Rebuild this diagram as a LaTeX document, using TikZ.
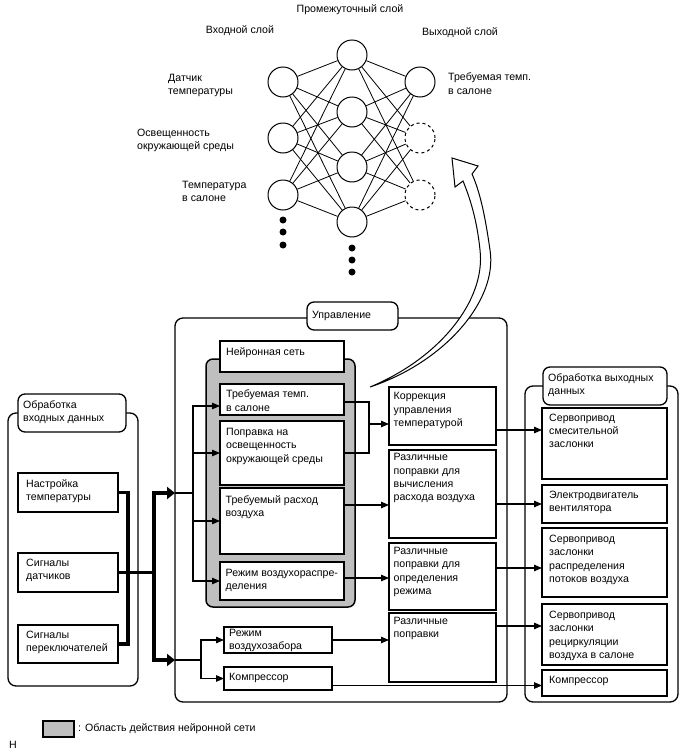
\documentclass[tikz,border=0pt]{standalone}
\usepackage{fontspec}
\setmainfont{Liberation Sans}
\usetikzlibrary{arrows.meta,calc}
\newcommand\fsz{\fontsize{10.6}{13.3}\selectfont}
\newcommand\mybox[8]{%
  \node[boxs, minimum width={(#4-#2)*1pt}, minimum height={(#5-#3)*1pt}] (#1) at (#2,#3) {};
  \node[lbl] (#1-t) at ($(#1.north west)+(#6,#7)$) {#8};}
\newcommand\mygrp[5]{%
  \node[grp, minimum width={(#4-#2)*1pt}, minimum height={(#5-#3)*1pt}] (#1) at (#2,#3) {};}
\newcommand\mytab[6]{%
  \node[tabs, minimum width={(#4-#2)*1pt}, minimum height={(#5-#3)*1pt}] (#1) at (#2,#3) {};
  \node[lbl, anchor=west] (#1-t) at ($(#1.west)+(5,0)$) {#6};}
\begin{document}
\begin{tikzpicture}[x=1pt,y=-1pt,
  font=\fsz,
  lw/.style={line width=1.1pt},
  boxs/.style={draw, line width=1.3pt, fill=white, rectangle, inner sep=0pt, outer sep=0pt, anchor=north west},
  grp/.style={draw, line width=1.3pt, rounded corners=8pt, rectangle, inner sep=0pt, outer sep=0pt, anchor=north west},
  tabs/.style={grp, fill=white, rounded corners=7pt},
  lbl/.style={inner sep=0pt, anchor=north west, align=left, font=\fsz, execute at begin node=\strut},
  arr/.style={line width=1.1pt, -{Triangle[length=8pt,width=6.5pt]}},
  bus/.style={line width=3.5pt},
  bigarr/.style={line width=3.5pt, -{Triangle[length=8pt,width=12pt]}},
  neuron/.style={circle, draw, line width=1pt, minimum size=30pt, inner sep=0pt, fill=white},
  conn/.style={line width=0.8pt},
  dotn/.style={circle, fill=black, inner sep=0pt, minimum size=7pt},
]
\useasboundingbox (0,0) rectangle (688,755);

% ---------------- neural network ----------------
\node[inner sep=0pt] (tmid) at (350,10) {Промежуточный слой};
\node[inner sep=0pt] (tin) at (240,31) {Входной слой};
\node[inner sep=0pt] (tout) at (460,33) {Выходной слой};
\node[lbl] (li1) at (168,74) {Датчик\\температуры};
\node[lbl] (li2) at (137,129) {Освещенность\\окружающей среды};
\node[lbl] (li3) at (182,181) {Температура\\в салоне};
\node[lbl] (lo1) at (448,73) {Требуемая темп.\\в салоне};

\coordinate (pi1) at (283,82);
\coordinate (pi2) at (283,138);
\coordinate (pi3) at (283,195);
\coordinate (ph1) at (352,55);
\coordinate (ph2) at (352,112);
\coordinate (ph3) at (352,167);
\coordinate (ph4) at (352,222);
\coordinate (po1) at (420,82);
\coordinate (po2) at (420,138);
\coordinate (po3) at (420,195);
\foreach \n in {i1,i2,i3,h1,h2,h3,h4,o1}{\node[neuron] (\n) at (p\n) {};}
\foreach \n in {o2,o3}{\node[neuron, dashed] (\n) at (p\n) {};}
\foreach \a in {i1,i2,i3}{\foreach \b in {h1,h2,h3,h4}{\draw[conn] (\a) -- (\b);}}
\foreach \a in {h1,h2,h3,h4}{\foreach \b in {o1,o2,o3}{\draw[conn] (\a) -- (\b);}}
\node[dotn] (di1) at (283,220) {};
\node[dotn] (di2) at (283,232) {};
\node[dotn] (di3) at (283,245) {};
\node[dotn] (dh1) at (352,248) {};
\node[dotn] (dh2) at (352,260) {};
\node[dotn] (dh3) at (352,272) {};

% ---------------- groups ----------------
\mygrp{ing}{8}{413}{138}{686}
\mygrp{ctrl}{175}{318}{507}{702}
\mygrp{outg}{525}{386}{678}{702}
\node[grp, fill=gray!50, line width=1.5pt, rounded corners=7pt, minimum width=149pt, minimum height=248pt] (gray) at (206,359) {};
\mytab{intab}{18}{394}{126}{432}{Обработка\\входных данных}
\mytab{ctab}{307}{302}{398}{330}{Управление}
\mytab{otab}{543}{367}{667}{405}{Обработка выходных\\данных}

% ---------------- boxes ----------------
\mybox{in1}{18}{473}{118}{512}{8}{6}{Настройка\\температуры}
\mybox{in2}{18}{553}{118}{592}{8}{6}{Сигналы\\датчиков}
\mybox{in3}{18}{625}{118}{663}{8}{5.5}{Сигналы\\переключателей}

\mybox{nn}{220}{341}{344}{372}{6}{5}{Нейронная сеть}
\mybox{n1}{220}{384}{344}{415}{6}{6}{Требуемая темп.\\в салоне}
\mybox{n2}{220}{421}{344}{485}{6}{7}{Поправка на\\освещенность\\окружающей среды}
\mybox{n3}{220}{488}{344}{554}{5.5}{7.5}{Требуемый расход\\воздуха}
\mybox{n4}{220}{562}{344}{600}{5.5}{7}{Режим воздухораспре-\\деления}
\mybox{c1}{224}{627}{332}{653}{5}{2}{Режим\\воздухозабора}
\mybox{c2}{224}{667}{332}{690}{5}{3.5}{Компрессор}

\mybox{m1}{389}{387}{496}{445}{4.5}{5.5}{Коррекция\\управления\\температурой}
\mybox{m2}{389}{450}{496}{538}{4.5}{3.5}{Различные\\поправки для\\вычисления\\расхода воздуха}
\mybox{m3}{389}{543}{496}{610}{4.5}{4}{Различные\\поправки для\\определения\\режима}
\mybox{m4}{389}{613}{496}{682}{4.5}{4}{Различные\\поправки}

\mybox{r1}{542}{408}{667}{479}{7}{5.5}{Сервопривод\\смесительной\\заслонки}
\mybox{r2}{542}{485}{667}{523}{7}{6}{Электродвигатель\\вентилятора}
\mybox{r3}{542}{528}{667}{597}{7}{7}{Сервопривод\\заслонки\\распределения\\потоков воздуха}
\mybox{r4}{542}{604}{667}{665}{7}{7}{Сервопривод\\заслонки\\рециркуляции\\воздуха в салоне}
\mybox{r5}{542}{670}{667}{696}{7}{4}{Компрессор}

% ---------------- thick input bus ----------------
\coordinate (bA) at (128,0);
\coordinate (bB) at (154,0);
\coordinate (jT) at (154,493);
\coordinate (jB) at (154,660);
\draw[bus, line join=miter] (in1.east) -- (in1.east -| bA) -- (in3.east -| bA) -- (in3.east);
\draw[bus] (in2.east) -- (in2.east -| bB);
\draw[bigarr, line join=miter] (jB) -- (jT) -- (jT -| ctrl.west);
\draw[bigarr, line join=miter] (jT) -- (jB) -- (jB -| ctrl.west);

% ---------------- thin distribution ----------------
\coordinate (t1) at (193,493);
\coordinate (t2) at (201,660);
\coordinate (n1i) at ($(n1.west)+(0,6.5)$);
\draw[lw] (jT -| ctrl.west) -- (t1);
\draw[arr] (t1) |- (n1i);
\draw[arr] (t1) |- (n2.west);
\draw[arr] (t1) |- (n3.west);
\draw[arr] (t1) |- (n4.west);
\draw[lw] (jB -| ctrl.west) -- (t2);
\draw[arr] (t2) |- (c1.west);
\draw[arr] (t2) |- (c2.west);

% ---------------- to middle column ----------------
\coordinate (k) at (369,0);
\coordinate (n1o) at ($(n1.east)+(0,2.5)$);
\coordinate (m1i) at ($(m1.west)+(0,8)$);
\draw[lw] (n1o) -| (k |- n2.east) -- (n2.east);
\draw[arr] (k |- m1i) -- (m1i);
\coordinate (n3o) at ($(n3.east)+(0,-16)$);
\draw[arr] (n3o) -- (n3o -| m2.west);
\coordinate (n4o) at ($(n4.east)+(0,-3)$);
\draw[arr] (n4o) -- (n4o -| m3.west);
\draw[arr] (c1.east) -- (c1.east -| m4.west);
\coordinate (c2o) at ($(c2.east)+(0,7)$);
\draw[arr] (c2o) -- (c2o -| r5.west);

% ---------------- to output column ----------------
\coordinate (m1o) at ($(m1.east)+(0,14)$);
\draw[arr] (m1o) -- (m1o -| r1.west);
\draw[arr] (r2.west -| m2.east) -- (r2.west);
\coordinate (m3o) at ($(m3.east)+(0,-8.5)$);
\draw[arr] (m3o) -- (m3o -| r3.west);
\coordinate (m4o) at ($(m4.east)+(0,-21.5)$);
\draw[arr] (m4o) -- (m4o -| r4.west);

% ---------------- big curved arrow ----------------
\draw[line width=1pt, fill=white, line join=miter]
  (370,387) .. controls (445,362) and (498,300) .. (490,250)
  .. controls (485,215) and (480,192) .. (472,174)
  -- (478,166) -- (452,158) -- (455,187) -- (463,181)
  .. controls (470,198) and (477,220) .. (480,250)
  .. controls (486,300) and (440,358) .. (370,387) -- cycle;

% ---------------- legend ----------------
\node[boxs, fill=gray!50, minimum width=31pt, minimum height=16pt] (leg) at (43,721) {};
\node[inner sep=0pt, anchor=west] (legt) at ($(leg.east)+(4,0)$) {: Область действия нейронной сети};
\node[inner sep=0pt] (hh) at (13,745) {H};
\end{tikzpicture}
\end{document}
